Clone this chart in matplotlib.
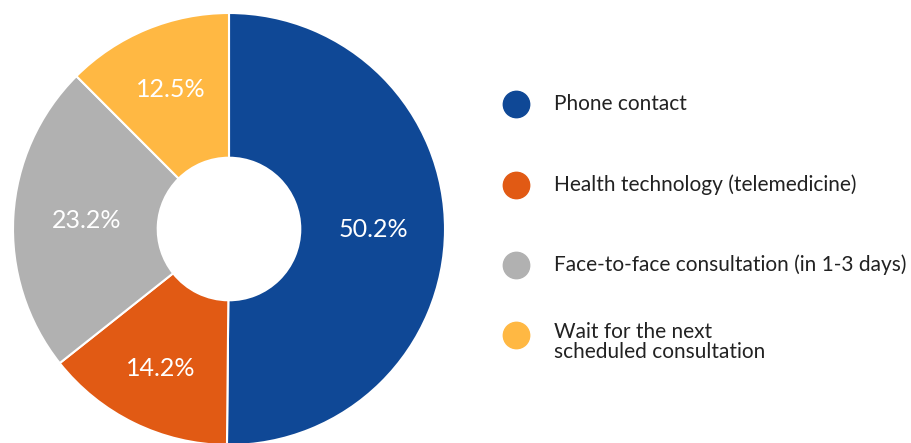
import numpy as np
import matplotlib.pyplot as plt

# data
labels = ['Phone contact', 'Health technology (telemedicine)',
          'Face-to-face consultation (in 1-3 days)',
          'Wait for the next\nscheduled consultation']
shares = [50.2, 14.2, 23.2, 12.5]
colors = ['#0F4896', '#E15A14', '#B1B1B1', '#FFB843']

plt.rcParams['font.family'] = ['Lato', 'DejaVu Sans']

W, H = 912, 443
fig = plt.figure(figsize=(W / 100, H / 100), dpi=100)

# donut: centre (229, 229) px from top, radius ~216 px
cx, cy, r = 229, H - 229, 216
ax = fig.add_axes([(cx - r) / W, (cy - r) / H, 2 * r / W, 2 * r / H])
wedges, _ = ax.pie(shares, colors=colors, startangle=90, counterclock=False, radius=1,
                   wedgeprops=dict(width=0.67, edgecolor='white', linewidth=1.5))
# percentage labels (shares add up to 100.1, so print the given values)
label_dist = [0.67, 0.72, 0.66, 0.70]
for w, s, d in zip(wedges, shares, label_dist):
    mid = np.deg2rad((w.theta1 + w.theta2) / 2)
    ax.text(d * np.cos(mid), d * np.sin(mid), f'{s:.1f}%', color='white',
            fontsize=18, ha='center', va='center')
ax.set_xlim(-1, 1)
ax.set_ylim(-1, 1)
ax.set_aspect('equal')
ax.axis('off')

# legend drawn by hand in pixel coordinates
lax = fig.add_axes([0, 0, 1, 1])
lax.set_xlim(0, W)
lax.set_ylim(H, 0)
lax.axis('off')
rows_y = [104, 185, 265, 342]
for lab, c, y in zip(labels, colors, rows_y):
    lax.plot(516, y - (7 if '\n' in lab else 0), 'o', markersize=19, color=c)
    lax.text(554, y, lab, fontsize=15, color='#222222', va='center', ha='left',
             linespacing=0.95)

fig.savefig('out.png', dpi=100)
